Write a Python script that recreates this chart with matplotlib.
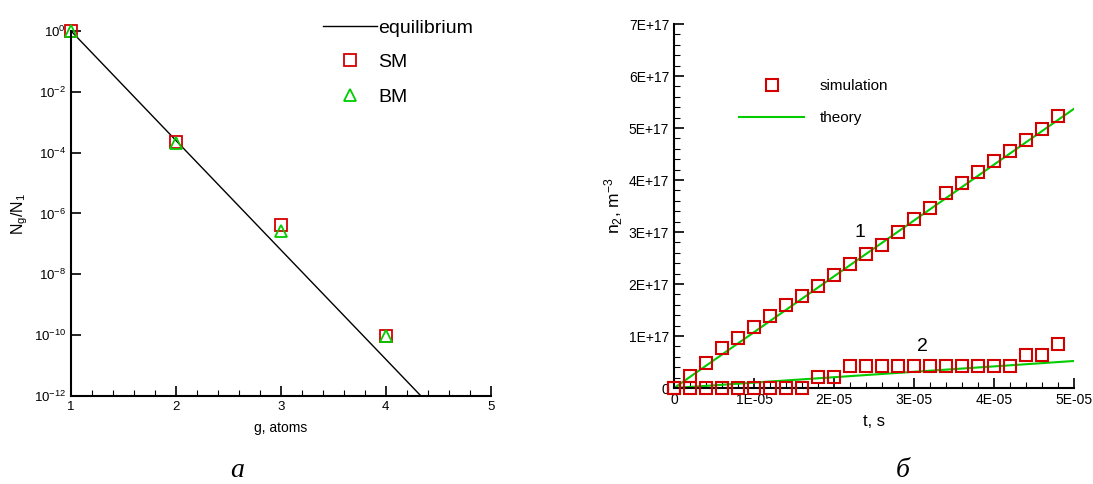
"""Two-panel figure: cluster size distribution (a) and dimer density growth (b)."""

import matplotlib
matplotlib.use('Agg')
import matplotlib.pyplot as plt
from matplotlib.ticker import MultipleLocator, FixedLocator, NullLocator

plt.rcParams['font.family'] = ['Liberation Sans', 'DejaVu Sans']
plt.rcParams['mathtext.fontset'] = 'custom'
plt.rcParams['mathtext.rm'] = 'Liberation Sans'
plt.rcParams['mathtext.it'] = 'Liberation Sans'

RED = '#d40000'
GREEN = '#00cc00'

# panel a: cluster fractions
g_eq = [1, 2, 3, 4, 5]
ratio_eq = [1.0, 2.5e-4, 6.3e-8, 1.6e-11, 4.0e-15]
g_pts = [1, 2, 3, 4]
ratio_sm = [1.0, 2.2e-4, 4.3e-7, 9.5e-11]
ratio_bm = [1.0, 2.0e-4, 2.6e-7, 9.0e-11]

# panel b: dimer density vs time
t_sim = [i * 2e-6 for i in range(25)]
n2_sim1 = [0.0, 0.23e17, 0.48e17, 0.77e17, 0.96e17, 1.17e17, 1.38e17,
           1.60e17, 1.77e17, 1.96e17, 2.17e17, 2.38e17, 2.58e17, 2.75e17,
           3.00e17, 3.25e17, 3.46e17, 3.75e17, 3.94e17, 4.15e17, 4.37e17,
           4.56e17, 4.77e17, 4.98e17, 5.23e17]
n2_sim2 = [0.0, 0.0, 0.0, 0.0, 0.0, 0.0, 0.0, 0.0, 0.0, 0.21e17, 0.21e17,
           0.42e17, 0.42e17, 0.42e17, 0.42e17, 0.42e17, 0.42e17, 0.42e17,
           0.42e17, 0.42e17, 0.42e17, 0.42e17, 0.63e17, 0.63e17, 0.85e17]
t_th = [0.0, 5e-5]
n2_th1 = [0.0, 5.37e17]
n2_th2 = [0.0, 0.52e17]

fig = plt.figure(figsize=(10.93, 4.84), dpi=100)

# ---- panel a
ax1 = fig.add_axes([0.065, 0.182, 0.384, 0.754])
ax1.plot(g_eq, ratio_eq, color='black', lw=1.0, label='equilibrium')
ax1.plot(g_pts, ratio_sm, ls='none', marker='s', ms=8, mfc='none',
         mec=RED, mew=1.3, clip_on=False, label='SM')
ax1.plot(g_pts, ratio_bm, ls='none', marker='^', ms=9, mfc='none',
         mec=GREEN, mew=1.3, clip_on=False, label='BM')
ax1.set_yscale('log')
ax1.set_xlim(1, 5)
ax1.set_ylim(1e-12, 1)
ax1.yaxis.set_major_locator(FixedLocator([10.0 ** -k for k in range(0, 13, 2)]))
ax1.yaxis.set_minor_locator(NullLocator())
ax1.xaxis.set_major_locator(MultipleLocator(1))
ax1.xaxis.set_minor_locator(MultipleLocator(0.2))
ax1.set_xlabel('g, atoms', fontsize=10, labelpad=6)
ax1.set_ylabel('N$_g$/N$_1$', fontsize=11.5, labelpad=3)
ax1.legend(loc='upper left', bbox_to_anchor=(0.6, 1.033), frameon=False,
           fontsize=14, handlelength=2.8, handletextpad=0.05,
           labelspacing=0.87, borderpad=0, borderaxespad=0)

# ---- panel b
ax2 = fig.add_axes([0.6167, 0.1983, 0.3659, 0.7521])
ax2.plot(t_th, n2_th1, color=GREEN, lw=1.5, label='theory', zorder=2)
ax2.plot(t_th, n2_th2, color=GREEN, lw=1.5, zorder=2)
ax2.plot(t_sim, n2_sim1, ls='none', marker='s', ms=9, mfc='none',
         mec=RED, mew=1.5, clip_on=False, label='simulation', zorder=3)
ax2.plot(t_sim, n2_sim2, ls='none', marker='s', ms=9, mfc='none',
         mec=RED, mew=1.5, clip_on=False, zorder=3)
ax2.set_xlim(0, 5e-5)
ax2.set_ylim(0, 7e17)
ax2.xaxis.set_major_locator(MultipleLocator(1e-5))
ax2.xaxis.set_minor_locator(MultipleLocator(2e-6))
ax2.yaxis.set_major_locator(MultipleLocator(1e17))
ax2.yaxis.set_minor_locator(MultipleLocator(0.2e17))
ax2.xaxis.set_major_formatter(lambda v, p: '0' if v == 0 else f'{v:.0E}')
ax2.yaxis.set_major_formatter(lambda v, p: '0' if v == 0 else f'{v:.0E}')
ax2.set_xlabel('t, s', fontsize=12, labelpad=5)
ax2.set_ylabel('n$_2$, m$^{-3}$', fontsize=12.5, labelpad=3)
ax2.text(2.33e-5, 3.0e17, '1', fontsize=14, ha='center', va='center')
ax2.text(3.11e-5, 0.79e17, '2', fontsize=14, ha='center', va='center')
handles, labels = ax2.get_legend_handles_labels()
ax2.legend([handles[1], handles[0]], [labels[1], labels[0]],
           loc='upper left', bbox_to_anchor=(0.1625, 0.848), frameon=False,
           fontsize=11, handlelength=4.25, handletextpad=1.05,
           labelspacing=1.15, borderpad=0, borderaxespad=0)

for ax in (ax1, ax2):
    for side in ('top', 'right'):
        ax.spines[side].set_visible(False)
    for side in ('left', 'bottom'):
        ax.spines[side].set_linewidth(1.5)
    ax.tick_params(which='both', direction='in', width=1.2)
    ax.tick_params(which='major', length=7)
    ax.tick_params(which='minor', length=4, width=0.8)
ax1.tick_params(labelsize=9.5)
ax2.tick_params(labelsize=10)

fig.text(0.217, 0.014, 'а', fontsize=20, style='italic',
         family='Liberation Serif', ha='center', va='baseline')
fig.text(0.826, 0.014, 'б', fontsize=20, style='italic',
         family='Liberation Serif', ha='center', va='baseline')

fig.savefig('out.png', dpi=100)
